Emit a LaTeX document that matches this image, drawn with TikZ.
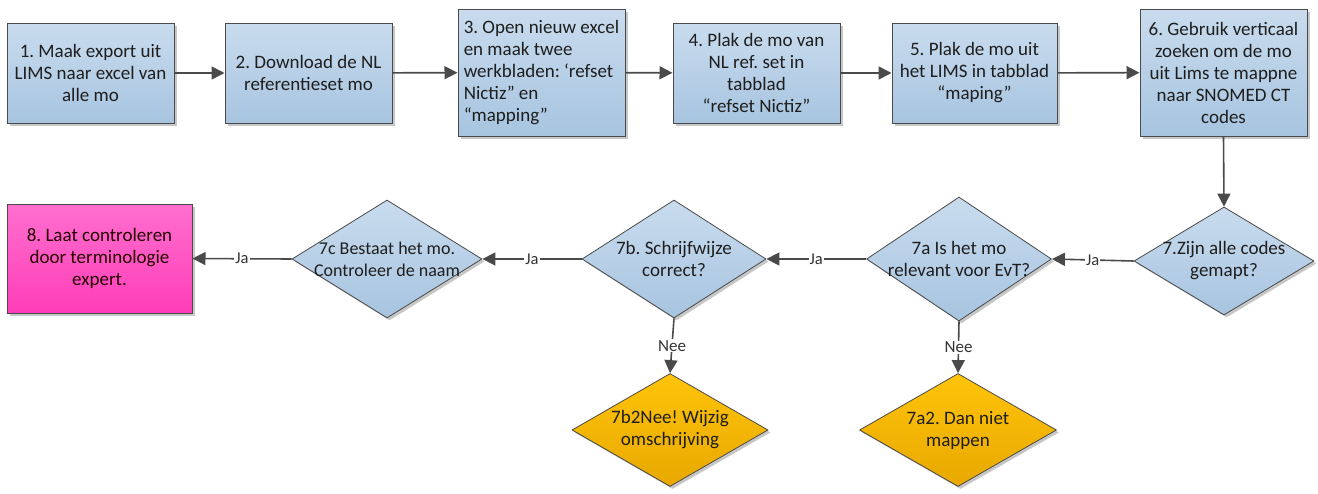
\documentclass[tikz,border=0pt]{standalone}
\usepackage{fontspec}
\setmainfont{Carlito}
\frenchspacing
\usetikzlibrary{arrows.meta,shapes.geometric,shadows}
\definecolor{bluetop}{HTML}{C9DCEE}
\definecolor{bluebot}{HTML}{A7C4E0}
\definecolor{pinktop}{HTML}{FF6FCF}
\definecolor{pinkbot}{HTML}{FF3DB8}
\definecolor{orgtop}{HTML}{FFC40A}
\definecolor{orgbot}{HTML}{E8A800}
\definecolor{edge}{HTML}{4A4A4A}
\definecolor{txt}{HTML}{1E1E1E}
\tikzset{
  shad/.style={drop shadow={shadow xshift=2.5pt,shadow yshift=-2.5pt,opacity=0.22,fill=black}},
  stepbox/.style={rectangle,draw=edge,line width=1pt,top color=bluetop,bottom color=bluebot,
     shad,inner sep=0pt,font=\fontsize{19}{22}\selectfont,text=txt,align=center},
  pinkbox/.style={stepbox,top color=pinktop,bottom color=pinkbot,text=black!85!red},
  dia/.style={diamond,draw=edge,line width=0.8pt,top color=bluetop,bottom color=bluebot,shad,inner sep=0pt,aspect=1.6},
  odia/.style={dia,top color=orgtop,bottom color=orgbot},
  dtext/.style={font=\fontsize{19}{22}\selectfont,text=txt,align=center},
  arr/.style={draw=edge,line width=1.6pt,-{Triangle[length=13pt,width=13pt]}},
  lab/.style={fill=white,inner sep=1pt,font=\fontsize{16.5}{18}\selectfont,text=black!80},
  nlab/.style={lab,font=\fontsize{17}{19}\selectfont}
}
\begin{document}
\begin{tikzpicture}[x=1pt,y=-1pt]
\useasboundingbox (0,0) rectangle (1318,493);
% top row
\node[stepbox,minimum width=167pt,minimum height=100pt] (b1) at (90.5,73)
  {1. Maak export uit\\LIMS naar excel van\\alle mo};
\node[stepbox,minimum width=167pt,minimum height=100pt] (b2) at (308.5,73)
  {2. Download de NL\\referentieset mo};
\node[stepbox,minimum width=167pt,minimum height=127pt,align=left] (b3) at (541.5,72.5)
  {3. Open nieuw excel\\en maak twee\\werkbladen: ‘refset\\Nictiz” en\\“mapping”};
\node[stepbox,minimum width=167pt,minimum height=100pt] (b4) at (756.5,73)
  {4. Plak de mo van\\NL ref. set in\\tabblad\\“refset Nictiz”};
\node[stepbox,minimum width=165pt,minimum height=100pt] (b5) at (974.5,73)
  {5. Plak de mo uit\\het LIMS in tabblad\\“maping”};
\node[stepbox,minimum width=167pt,minimum height=127pt] (b6) at (1223.5,72.5)
  {6. Gebruik verticaal\\zoeken om de mo\\uit Lims te mappne\\naar SNOMED CT\\codes};
% second row
\node[dia,minimum width=180pt,minimum height=108pt] (d7) at (1224,261) {};
\node[dtext] at (d7.center) {7.Zijn alle codes\\gemapt?};
\node[dia,minimum width=185pt,minimum height=124pt] (d7a) at (959,259) {};
\node[dtext] at (d7a.center) {7a Is het mo\\relevant voor EvT?};
\node[dia,minimum width=184pt,minimum height=118pt] (d7b) at (674,259) {};
\node[dtext] at (d7b.center) {7b. Schrijfwijze\\correct?};
\node[dia,minimum width=190pt,minimum height=118pt] (d7c) at (387,259) {};
\node[dtext,font=\fontsize{18}{22}\selectfont] at (d7c.center) {7c Bestaat het mo.\\Controleer de naam};
\node[pinkbox,minimum width=185pt,minimum height=109pt] (b8) at (99.5,258.5)
  {8. Laat controleren\\door terminologie\\expert.};
% third row
\node[odia,minimum width=196pt,minimum height=113pt] (d7b2) at (670,430) {};
\node[dtext] at (d7b2.center) {7b2Nee! Wijzig\\omschrijving};
\node[odia,minimum width=197pt,minimum height=113pt] (d7a2) at (958,430) {};
\node[dtext] at (d7a2.center) {7a2. Dan niet\\mappen};
% connectors
\draw[arr] (b1) -- (b2);
\draw[arr] (b2) -- (b3);
\draw[arr] (b3) -- (b4);
\draw[arr] (b4) -- (b5);
\draw[arr] (b5) -- (b6);
\draw[arr] (b6.south) -- (d7.north);
\draw[arr] (d7.west) -- node[lab]{Ja} (d7a.east);
\draw[arr] (d7a.west) -- node[lab]{Ja} (d7b.east);
\draw[arr] (d7b.west) -- node[lab]{Ja} (d7c.east);
\draw[arr] (d7c.west) -- node[lab]{Ja} (b8.east);
\draw[arr] (d7b.south) -- node[nlab]{Nee} (d7b2.north);
\draw[arr] (d7a.south) -- node[nlab]{Nee} (d7a2.north);
\end{tikzpicture}
\end{document}
